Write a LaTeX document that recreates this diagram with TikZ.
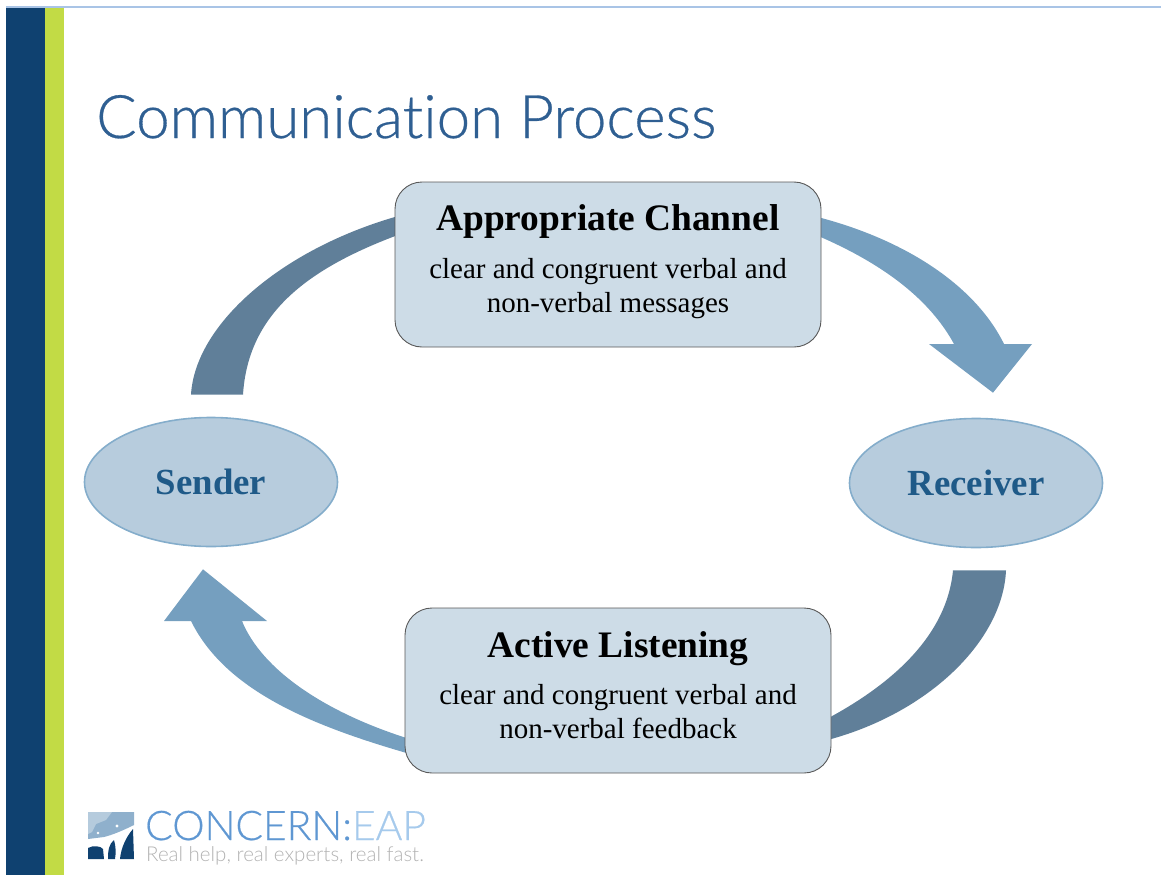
\documentclass[tikz,border=0pt]{standalone}
\usepackage{fontspec}
\setmainfont{Liberation Serif}
\newfontfamily\lightsans[Ligatures={NoCommon}]{Lato Light}
\newfontfamily\titlesans[Ligatures={NoCommon},FakeBold=0.5]{Lato Light}
\usetikzlibrary{calc,backgrounds,shapes.geometric}
\definecolor{navy}{HTML}{0F4170}
\definecolor{lime}{HTML}{C2DB45}
\definecolor{topline}{HTML}{A9C4E6}
\definecolor{titleblue}{HTML}{2F5F92}
\definecolor{bandlight}{HTML}{759FBF}
\definecolor{banddark}{HTML}{607F99}
\definecolor{boxfill}{HTML}{CDDCE7}
\definecolor{ellfill}{HTML}{B7CCDD}
\definecolor{ellline}{HTML}{84ADCB}
\definecolor{roletext}{HTML}{1F5A88}
\definecolor{logoblue}{HTML}{5F97D2}
\definecolor{logopale}{HTML}{A6CAEC}
\definecolor{logomid}{HTML}{8FB0CC}
\definecolor{logolight}{HTML}{B5CBDD}
\definecolor{taggray}{HTML}{B2B2B2}
\tikzset{
  msgbox/.style={draw=black!65,line width=0.9pt,fill=boxfill,rounded corners=27pt,
    minimum width=426pt,minimum height=165pt,inner sep=0pt},
  rolenode/.style={ellipse,draw=ellline,line width=1.6pt,fill=ellfill,
    minimum width=253pt,minimum height=129pt,inner sep=0pt,
    font=\fontsize{36.8}{40}\selectfont\bfseries,text=roletext},
  boxhead/.style={font=\fontsize{37.4}{40}\selectfont\bfseries,text=black},
  boxbody/.style={font=\fontsize{29}{34}\selectfont,text=black,align=center},
  bandL/.style={fill=bandlight,draw=none},
  bandD/.style={fill=banddark,draw=none},
}
\begin{document}
\begin{tikzpicture}[x=1pt,y=-1pt]
\useasboundingbox (0,0) rectangle (1161,875);
% frame
\fill[navy] (6,8) rectangle (45,875);
\fill[lime] (45,8) rectangle (64,875);
\fill[topline] (6,6.5) rectangle (1161,8);
% title
\node[anchor=base west,inner sep=0pt,text=titleblue,font=\titlesans\fontsize{60}{64}\selectfont] (title) at (96,138) {Communication Process};
% nodes
\node[msgbox] (chan) at (608,264.5) {};
\node[msgbox] (listen) at (618,690.5) {};
\node[rolenode] (sender) at (211,482) {Sender};
\node[rolenode] (receiver) at (976,483) {Receiver};
\node[boxhead,anchor=base] (chanhead) at (608,230) {Appropriate Channel};
\node[boxbody,anchor=base] (chanb1) at (608,278) {clear and congruent verbal and};
\node[boxbody,anchor=base] (chanb2) at (608,312) {non-verbal messages};
\node[boxhead,anchor=base] (listhead) at (618,657) {Active Listening};
\node[boxbody,anchor=base] (listb1) at (618,704) {clear and congruent verbal and};
\node[boxbody,anchor=base] (listb2) at (618,738) {non-verbal feedback};
% block arrows
\begin{pgfonlayer}{background}
\fill[bandL] ($(chan.east)+(-2,-47)$) .. controls (905,240) and (975,285) .. (1004,344)
  -- (1032,344) -- ($(receiver.north)+(17,-25)$) -- (929,344) -- (954,344)
  .. controls (930,300) and (885,265) .. ($(chan.east)+(-2,-28)$) -- cycle;
\fill[bandL] ($(listen.west)+(2,62.5)$) .. controls (310,725) and (225,690) .. (191,621)
  -- (164,621) -- ($(sender.south)+(-8,22)$) -- (267,621) -- (242,621)
  .. controls (262,670) and (325,712) .. ($(listen.west)+(2,47.5)$) -- cycle;
\fill[bandD] ($(sender.north)+(-20,-22)$) .. controls (195,325) and (280,250) .. ($(chan.west)+(2,-48)$)
  -- ($(chan.west)+(2,-29)$) .. controls (305,270) and (248,315) .. ($(sender.north)+(32,-22)$) -- cycle;
\fill[bandD] ($(receiver.south)+(30,22)$) .. controls (1003,640) and (930,712) .. ($(listen.east)+(-2,49)$)
  -- ($(listen.east)+(-2,27)$) .. controls (893,683) and (947,635) .. ($(receiver.south)+(-23,22)$) -- cycle;
\end{pgfonlayer}
% logo icon
\fill[logomid] (88,812) -- (134,812) -- (134,825) .. controls (122,831) and (112,835) .. (104,837) -- (88,839) -- cycle;
\fill[logolight] (88,812) -- (112,812) -- (106,820) -- (96,824) -- (92,832) -- (88,834) -- cycle;
\fill[white] (117,826) circle (1.6);
\fill[white] (98,833) circle (1.3);
\fill[navy] (88,848) .. controls (93,845) and (101,846) .. (103,849) -- (104,859) -- (88,859) -- cycle;
\fill[navy] (108,859) .. controls (108,850) and (109,844) .. (114,840) .. controls (116,847) and (116,853) .. (115,859) -- cycle;
\fill[navy] (120,859) .. controls (121,848) and (126,837) .. (133,829) -- (134,859) -- cycle;
% logo text
\node[anchor=base west,inner sep=0pt,font=\titlesans\fontsize{40.8}{44}\selectfont] (logoname) at (145,840) {\textcolor{logoblue}{CONCERN:}\textcolor{logopale}{EAP}};
\node[anchor=base west,inner sep=0pt,text=taggray,font=\lightsans\fontsize{20.5}{24}\selectfont] (tagline) at (146,861) {Real help, real experts, real fast.};
\end{tikzpicture}
\end{document}
